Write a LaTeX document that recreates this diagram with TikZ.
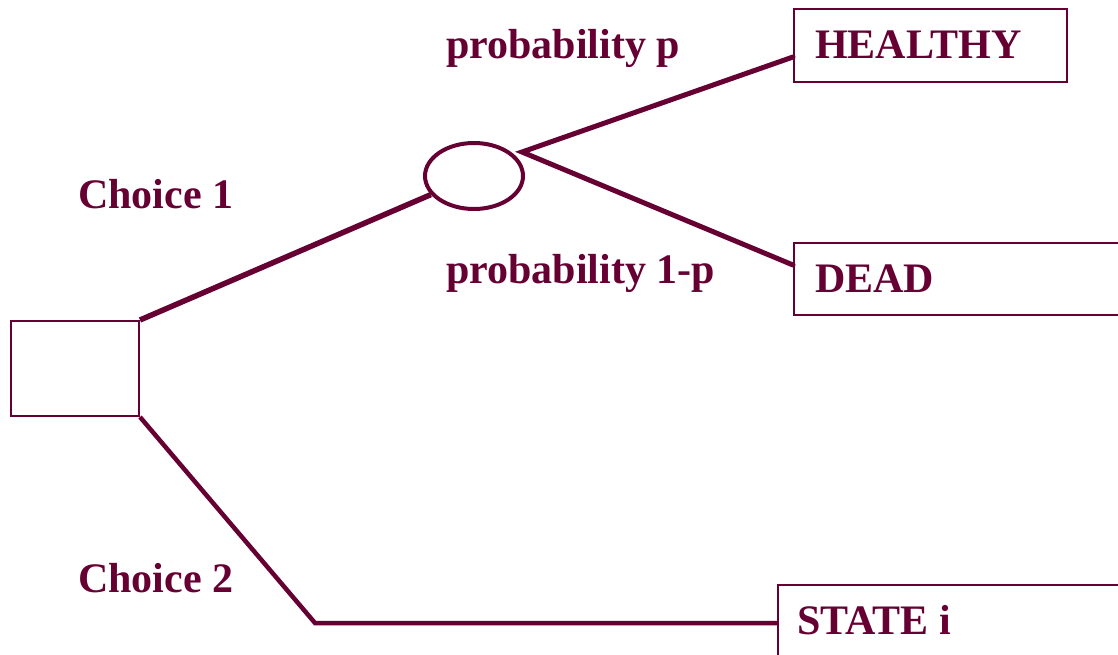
\documentclass[tikz,border=0pt]{standalone}
\usepackage{fontspec}
\setmainfont{Liberation Serif}
\usetikzlibrary{shapes.geometric,calc}
\definecolor{maroon}{HTML}{660033}
\begin{document}
\begin{tikzpicture}[x=1pt,y=-1pt,
  thinbox/.style={draw=maroon,line width=2pt,rectangle,inner sep=0pt,anchor=north west},
  branch/.style={draw=maroon,line width=5pt},
  lbl/.style={text=maroon,font=\fontsize{42}{42}\selectfont\bfseries,anchor=base west,inner sep=0pt}]
\useasboundingbox (0,0) rectangle (1118,654);
% decision square
\node[thinbox,minimum width=128pt,minimum height=95pt] (sq) at (10,320) {};
% chance node
\node[draw=maroon,line width=4pt,ellipse,minimum width=98pt,minimum height=66pt,inner sep=0pt] (ch) at (474,176) {};
\coordinate (apex) at (522,152);
% outcome boxes
\node[thinbox,minimum width=273pt,minimum height=73pt] (hb) at (793,8) {};
\node[thinbox,minimum width=340pt,minimum height=72pt] (db) at (793,242) {};
\node[thinbox,minimum width=350pt,minimum height=80pt] (sb) at (777,584) {};
\coordinate (hin) at ($(hb.north west)+(0,49)$);
\coordinate (din) at ($(db.north west)+(0,23)$);
\coordinate (bend) at (315,623);
\coordinate (sin) at ($(sb.north west)+(0,39)$);
% connectors
\draw[branch,line width=5.5pt] (sq.north east) -- (ch);
\draw[branch,line cap=round] (hin) -- (apex) -- (din);
\draw[branch,line width=4.5pt] (sq.south east) -- (bend) -- (sin);
% labels
\node[lbl] (c1) at (78,208) {Choice 1};
\node[lbl] (c2) at (78,592) {Choice 2};
\node[lbl] (pp) at (446,58) {probability p};
\node[lbl] (pq) at (446,283) {probability 1-p};
\node[lbl] (ht) at (815,58) {HEALTHY};
\node[lbl] (dt) at (815,292) {DEAD};
\node[lbl] (st) at (797,634) {STATE i};
\end{tikzpicture}
\end{document}
